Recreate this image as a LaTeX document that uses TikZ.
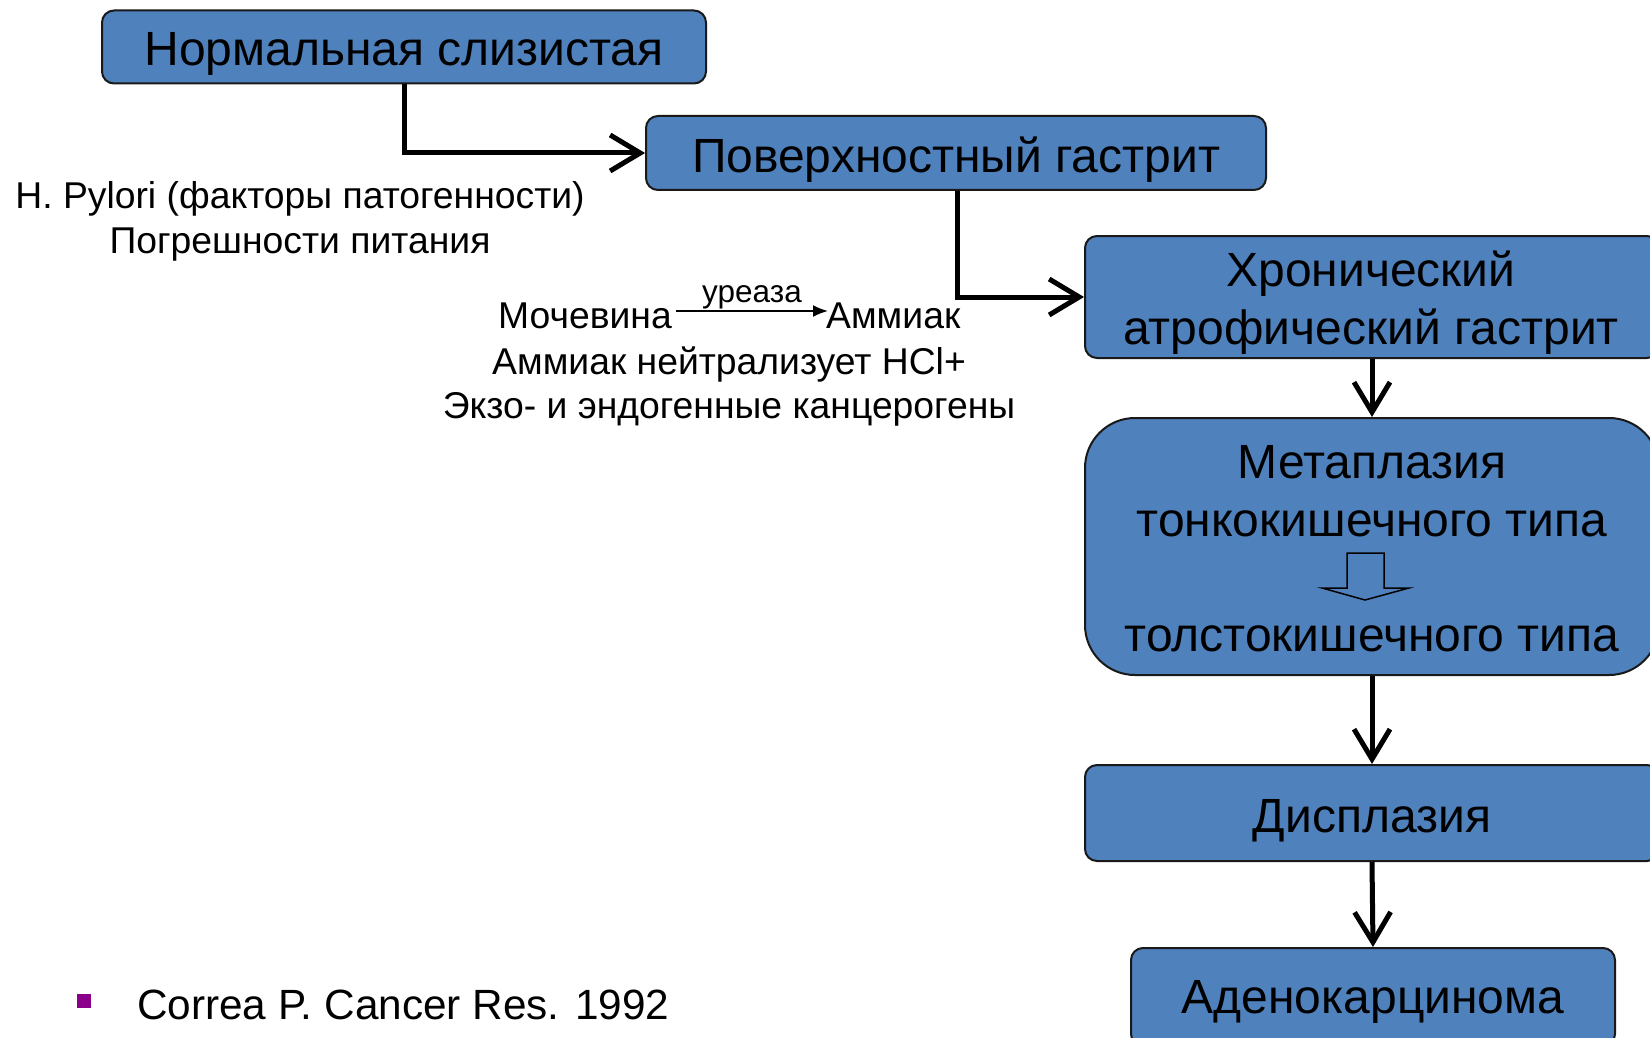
\documentclass[tikz,border=0pt]{standalone}
\usepackage{fontspec}
\setmainfont{Liberation Sans}
\usetikzlibrary{arrows.meta}
\definecolor{boxblue}{HTML}{4F81BD}
\definecolor{bulletpurple}{HTML}{8B008B}
\begin{document}
\begin{tikzpicture}[x=1pt,y=-1pt,
  stagebox/.style={draw=black!90, line width=2pt, fill=boxblue, rounded corners=12pt,
    font=\fontsize{48}{57}\selectfont, align=center, inner sep=0pt,
    text height=38pt, text depth=0pt},
  flowarrow/.style={line width=5pt, -{Straight Barb[length=30pt,width=36pt,line width=5pt]}},
  note/.style={font=\fontsize{37.3}{44}\selectfont, inner sep=0pt},
  boxtext/.style={font=\fontsize{48}{57}\selectfont, inner sep=0pt, text height=35pt, text depth=0pt}
]
\useasboundingbox (0,0) rectangle (1650,1038);
% boxes
\node[stagebox, minimum width=604pt, minimum height=73pt] (n1) at (404,47) {Нормальная слизистая};
\node[stagebox, minimum width=620pt, minimum height=74pt] (n2) at (956,153) {Поверхностный гастрит};
\node[stagebox, minimum width=574pt, minimum height=122pt] (n3) at (1372,297) {};
\node[boxtext] (h1) at (1371,269) {Хронический};
\node[boxtext] (h2) at (1371,327) {атрофический гастрит};
\node[stagebox, rounded corners=50pt, minimum width=574pt, minimum height=257pt] (n4) at (1372,546.5) {};
\node[boxtext] (m1) at (1372,461) {Метаплазия};
\node[boxtext] (m2) at (1372,519) {тонкокишечного типа};
\node[boxtext] (m3) at (1372,634) {толстокишечного типа};
\draw[line width=1.5pt, fill=boxblue] (1347,553) -- (1384,553) -- (1384,588) -- (1409,588) -- (1365,600) -- (1322,588) -- (1347,588) -- cycle;
\node[stagebox, minimum width=574pt, minimum height=96pt] (n5) at (1372,813) {Дисплазия};
\node[stagebox, minimum width=484pt, minimum height=98pt, text height=33pt] (n6) at (1373,997) {Аденокарцинома};
% connectors
\draw[flowarrow] (n1.south) |- (n2.west);
\draw[flowarrow] (n2.south -| 957,0) |- (n3.west);
\draw[flowarrow] (n3.south) -- (n4.north);
\draw[flowarrow] (n4.south) -- (n5.north);
\draw[flowarrow] (n5.south) -- (n6.north);
% notes
\node[note, anchor=base] (hp) at (300,208) {H. Pylori (факторы патогенности)};
\node[note, anchor=base] (pp) at (300,253) {Погрешности питания};
\node[note, anchor=base east] (mo) at (672,328) {Мочевина};
\node[note, anchor=base west] (am) at (826,328) {Аммиак};
\coordinate (ma) at (676,311);
\coordinate (mb) at (828,311);
\draw[line width=1.8pt, -{Latex[length=15pt,width=12pt]}] (ma) -- (mb) node[midway, above=0pt, font=\fontsize{31.5}{36}\selectfont, inner sep=1pt] (ur) {уреаза};
\node[note, anchor=base] (nh) at (729,374) {Аммиак нейтрализует HCl+};
\node[note, anchor=base] (ek) at (729,418) {Экзо- и эндогенные канцерогены};
% citation
\node[fill=bulletpurple, minimum size=14pt, inner sep=0pt] (bl) at (84,1001) {};
\node[font=\fontsize{42.3}{50}\selectfont, inner sep=0pt, anchor=base west] (cit) at (137,1019) {Correa P. Cancer Res. 1992};
\end{tikzpicture}
\end{document}
